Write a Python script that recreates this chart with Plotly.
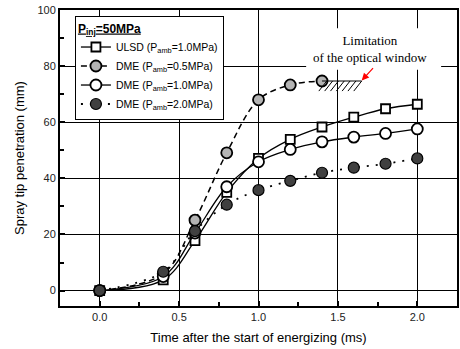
import plotly.graph_objects as go

# ---- data ----
t_full = [0.0, 0.4, 0.6, 0.8, 1.0, 1.2, 1.4, 1.6, 1.8, 2.0]
t_dme05 = [0.0, 0.4, 0.6, 0.8, 1.0, 1.2, 1.4]
ulsd_10 = [0.0, 3.8, 17.8, 35.0, 47.1, 53.9, 58.3, 61.8, 64.8, 66.4]
dme_05 = [0.0, 6.0, 25.1, 49.1, 68.0, 73.3, 74.7]
dme_10 = [0.0, 5.0, 20.5, 37.0, 45.9, 50.3, 53.0, 54.7, 56.0, 57.6]
dme_20 = [0.0, 6.7, 21.2, 30.6, 35.8, 39.1, 42.0, 43.8, 45.2, 47.1]

names = [
    "ULSD (P<sub>amb</sub>=1.0MPa)",
    "DME (P<sub>amb</sub>=0.5MPa)",
    "DME (P<sub>amb</sub>=1.0MPa)",
    "DME (P<sub>amb</sub>=2.0MPa)",
]
legend_title = "<b><u>P<sub>inj</sub>=50MPa</u></b>"
x_ticks = [0.0, 0.5, 1.0, 1.5, 2.0]
y_ticks = [0, 20, 40, 60, 80, 100]

SANS = "Liberation Sans, Arial, sans-serif"
SERIF = "Liberation Serif, Times New Roman, serif"

fig = go.Figure()

fig.add_trace(go.Scatter(
    x=t_full, y=ulsd_10, name=names[0], mode="lines+markers",
    line=dict(color="black", width=1.3, shape="spline", smoothing=1.0),
    marker=dict(symbol="square", size=9, color="white", line=dict(color="black", width=1.8)),
))
fig.add_trace(go.Scatter(
    x=t_dme05, y=dme_05, name=names[1], mode="lines+markers",
    line=dict(color="black", width=1.5, dash="6px,4px", shape="spline", smoothing=1.0),
    marker=dict(symbol="circle", size=11, color="#b4b4b4", line=dict(color="black", width=1.8)),
))
fig.add_trace(go.Scatter(
    x=t_full, y=dme_10, name=names[2], mode="lines+markers",
    line=dict(color="black", width=1.3, shape="spline", smoothing=1.0),
    marker=dict(symbol="circle", size=11, color="white", line=dict(color="black", width=1.8)),
))
fig.add_trace(go.Scatter(
    x=t_full, y=dme_20, name=names[3], mode="lines+markers",
    line=dict(color="black", width=1.8, dash="2px,7px", shape="spline", smoothing=1.0),
    marker=dict(symbol="circle", size=11, color="#404040", line=dict(color="black", width=1.2)),
))

# limitation hatch derived from last DME 0.5 MPa point
x0 = t_dme05[-1]
y0 = dme_05[-1]
x1 = x0 + 0.25
shapes = [
    dict(type="rect", xref="x", yref="y", x0=1.30, x1=2.15, y0=78.7, y1=93.5,
         fillcolor="white", line=dict(width=0), layer="above"),
    dict(type="line", xref="x", yref="y", x0=x0, x1=x1, y0=y0, y1=y0,
         line=dict(color="black", width=1.2)),
]
n_hatch = 7
for i in range(n_hatch):
    xt = x0 + 0.03 + i * (x1 - x0 - 0.03) / (n_hatch - 1)
    shapes.append(dict(type="line", xref="x", yref="y", x0=xt, y0=y0,
                       x1=xt - 0.05, y1=y0 - 3.6, line=dict(color="black", width=1)))

annotations = [
    dict(x=1.70, y=86.0, xref="x", yref="y", text="Limitation<br>of the optical window",
         showarrow=False, font=dict(family=SERIF, size=13, color="black"),
         align="center"),
    dict(x=x1, y=y0 + 0.2, xref="x", yref="y", ax=1.73, ay=79.8, axref="x", ayref="y",
         text="", showarrow=True, arrowhead=2, arrowsize=1.2, arrowwidth=1.2,
         arrowcolor="red"),
]

fig.update_layout(
    width=460, height=349,
    margin=dict(l=60, r=1, t=10, b=43),
    paper_bgcolor="white", plot_bgcolor="white",
    font=dict(family=SANS, color="black", size=11),
    showlegend=True,
    legend=dict(
        x=0.0376, y=0.98, xanchor="left", yanchor="top",
        bgcolor="white", bordercolor="black", borderwidth=1,
        font=dict(family=SANS, size=10.5, color="black"),
        title=dict(text=legend_title, font=dict(family=SANS, size=12, color="black")),
        tracegroupgap=0, itemwidth=30,
    ),
    shapes=shapes,
    annotations=annotations,
)

fig.update_xaxes(
    range=[-0.25, 2.25], tickvals=x_ticks, ticktext=[f"{v:.1f}" for v in x_ticks],
    showgrid=True, gridcolor="black", gridwidth=1,
    zeroline=False,
    showline=True, linecolor="black", linewidth=2, mirror=True,
    ticks="inside", ticklen=5, tickcolor="black", tickwidth=1.5,
    minor=dict(dtick=0.25, tick0=0, ticks="inside", ticklen=4, tickcolor="black", showgrid=False),
    tickfont=dict(family=SANS, size=11, color="#222222"),
    title=dict(text="Time after the start of energizing (ms)", font=dict(family=SANS, size=13), standoff=11),
)
fig.update_yaxes(
    range=[-5.5, 100], tickvals=y_ticks,
    showgrid=True, gridcolor="black", gridwidth=1,
    zeroline=False,
    showline=True, linecolor="black", linewidth=2, mirror=True,
    ticks="inside", ticklen=5, tickcolor="black", tickwidth=1.5,
    minor=dict(dtick=10, tick0=0, ticks="inside", ticklen=4, tickcolor="black", showgrid=False),
    tickfont=dict(family=SANS, size=11, color="#222222"),
    title=dict(text="Spray tip penetration (mm)", font=dict(family=SANS, size=13), standoff=10),
)

fig.write_html(
    "out.html",
    config={"displayModeBar": False},
    post_script="document.body.style.margin='0';document.body.style.overflow='hidden';",
)
